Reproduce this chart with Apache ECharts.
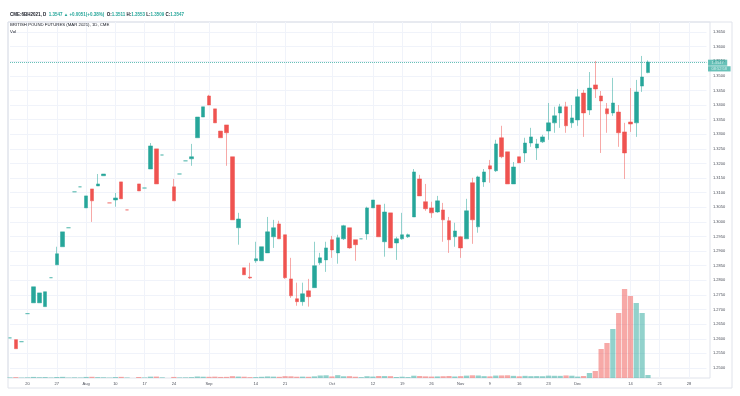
<!DOCTYPE html>
<html><head><meta charset="utf-8">
<script src="https://cdn.jsdelivr.net/npm/echarts@6/dist/echarts.min.js"></script>
<style>html,body{margin:0;padding:0;background:#fff}#c{width:740px;height:396px}</style>
</head><body><div id="c"></div>
<script>
// ---- categories (trading days, plus empty future slots) ----
const dates = [
'2020-07-15','2020-07-16','2020-07-17','2020-07-20','2020-07-21','2020-07-22','2020-07-23','2020-07-24','2020-07-27','2020-07-28',
'2020-07-29','2020-07-30','2020-07-31','2020-08-03','2020-08-04','2020-08-05','2020-08-06','2020-08-07','2020-08-10','2020-08-11',
'2020-08-12','2020-08-13','2020-08-14','2020-08-17','2020-08-18','2020-08-19','2020-08-20','2020-08-21','2020-08-24','2020-08-25',
'2020-08-26','2020-08-27','2020-08-28','2020-08-31','2020-09-01','2020-09-02','2020-09-03','2020-09-04','2020-09-08','2020-09-09',
'2020-09-10','2020-09-11','2020-09-14','2020-09-15','2020-09-16','2020-09-17','2020-09-18','2020-09-21','2020-09-22','2020-09-23',
'2020-09-24','2020-09-25','2020-09-28','2020-09-29','2020-09-30','2020-10-01','2020-10-02','2020-10-05','2020-10-06','2020-10-07',
'2020-10-08','2020-10-09','2020-10-12','2020-10-13','2020-10-14','2020-10-15','2020-10-16','2020-10-19','2020-10-20','2020-10-21',
'2020-10-22','2020-10-23','2020-10-26','2020-10-27','2020-10-28','2020-10-29','2020-10-30','2020-11-02','2020-11-03','2020-11-04',
'2020-11-05','2020-11-06','2020-11-09','2020-11-10','2020-11-11','2020-11-12','2020-11-13','2020-11-16','2020-11-17','2020-11-18',
'2020-11-19','2020-11-20','2020-11-23','2020-11-24','2020-11-25','2020-11-27','2020-11-30','2020-12-01','2020-12-02','2020-12-03',
'2020-12-04','2020-12-07','2020-12-08','2020-12-09','2020-12-10','2020-12-11','2020-12-14','2020-12-15','2020-12-16','2020-12-17',
'2020-12-18','2020-12-21','2020-12-22','2020-12-23','2020-12-24','2020-12-25','2020-12-28','2020-12-29','2020-12-30','2020-12-31'
];

// ---- OHLC ----
const open = [
1.2603,1.2597,1.2590,1.2686,1.2723,1.2723,1.2710,1.2809,1.2853,1.2915,
1.2980,1.3103,1.3120,1.3048,1.3113,1.3123,1.3158,1.3065,1.3075,1.3137,
1.3041,null,1.3130,1.3116,1.3181,1.3250,1.3229,null,1.3120,1.3164,
1.3209,1.3216,1.3288,1.3359,1.3431,1.3387,1.3311,1.3332,1.3223,1.2980,
1.2843,1.2811,1.2867,1.2867,1.2894,1.2949,1.2993,1.2956,1.2805,1.2737,
1.2727,1.2764,1.2775,1.2860,1.2870,1.2939,1.2894,1.2942,1.2980,1.2939,
1.2942,1.2959,1.3048,1.3058,1.2932,1.3031,1.2928,1.2942,1.2949,1.3017,
1.3147,1.3069,1.3048,1.3034,1.3041,1.3004,1.2949,1.2949,1.2942,1.3134,
1.2983,1.3137,1.3192,1.3175,1.3288,1.3240,1.3130,1.3223,1.3236,1.3270,
1.3253,1.3274,1.3311,1.3339,1.3373,1.3394,1.3339,1.3349,1.3441,1.3383,
1.3469,1.3431,1.3387,1.3373,1.3376,1.3308,1.3342,1.3339,1.3465,1.3511
];
const high = [
1.2603,1.2597,1.2590,1.2686,1.2778,1.2757,1.2761,1.2809,1.2915,1.2966,
1.2980,1.3103,1.3120,1.3089,1.3113,1.3164,1.3164,1.3065,1.3099,1.3137,
1.3041,null,1.3130,1.3116,1.3270,1.3250,1.3229,null,1.3147,1.3164,
1.3209,1.3267,1.3359,1.3394,1.3435,1.3387,1.3311,1.3332,1.3223,1.3031,
1.2843,1.2860,1.2932,1.2915,1.3017,1.3007,1.3004,1.2956,1.2877,1.2792,
1.2792,1.2805,1.2932,1.2894,1.2932,1.2952,1.2956,1.2990,1.2980,1.2939,
1.2942,1.3052,1.3075,1.3058,1.3062,1.3031,1.2949,1.3031,1.2960,1.3181,
1.3161,1.3130,1.3069,1.3089,1.3065,1.3017,1.2997,1.2952,1.3079,1.3151,
1.3158,1.3181,1.3212,1.3281,1.3329,1.3240,1.3205,1.3223,1.3288,1.3322,
1.3284,1.3298,1.3407,1.3394,1.3404,1.3411,1.3400,1.3455,1.3452,1.3513,
1.3551,1.3448,1.3407,1.3493,1.3400,1.3339,1.3458,1.3486,1.3568,1.3553
];
const low = [
1.2603,1.2566,1.2590,1.2686,1.2723,1.2723,1.2710,1.2809,1.2853,1.2915,
1.2980,1.3103,1.3120,1.3048,1.3000,1.3123,1.3158,1.3065,1.3052,1.3079,
1.3041,null,1.3106,1.3116,1.3181,1.3130,1.3229,null,1.3072,1.3164,
1.3209,1.3192,1.3288,1.3359,1.3400,1.3339,1.3288,1.3192,1.3007,1.2922,
1.2819,1.2805,1.2860,1.2867,1.2894,1.2911,1.2942,1.2805,1.2740,1.2713,
1.2713,1.2710,1.2775,1.2853,1.2829,1.2877,1.2857,1.2938,1.2908,1.2867,
1.2942,1.2939,1.3048,1.2949,1.2881,1.2911,1.2870,1.2939,1.2945,1.3017,
1.3089,1.3038,1.3014,1.3031,1.2932,1.2894,1.2915,1.2877,1.2942,1.2925,
1.2963,1.3120,1.3134,1.3171,1.3218,1.3130,1.3130,1.3202,1.3205,1.3257,
1.3212,1.3270,1.3281,1.3305,1.3322,1.3305,1.3322,1.3329,1.3291,1.3366,
1.3424,1.3236,1.3305,1.3363,1.3257,1.3147,1.3308,1.3291,1.3445,1.3509
];
const close = [
1.2603,1.2566,1.2590,1.2686,1.2778,1.2757,1.2761,1.2809,1.2891,1.2966,
1.2980,1.3103,1.3120,1.3089,1.3072,1.3130,1.3164,1.3065,1.3082,1.3079,
1.3041,null,1.3106,1.3116,1.3260,1.3130,1.3229,null,1.3072,1.3164,
1.3209,1.3223,1.3359,1.3394,1.3400,1.3339,1.3288,1.3305,1.3007,1.3010,
1.2819,1.2808,1.2874,1.2915,1.2966,1.2980,1.2942,1.2809,1.2747,1.2727,
1.2754,1.2744,1.2850,1.2877,1.2911,1.2904,1.2946,1.2987,1.2911,1.2922,
1.2942,1.3048,1.3075,1.2949,1.3034,1.2911,1.2942,1.2956,1.2956,1.3171,
1.3089,1.3045,1.3031,1.3072,1.3007,1.2939,1.2969,1.2911,1.3038,1.3007,
1.3154,1.3171,1.3181,1.3267,1.3223,1.3130,1.3188,1.3202,1.3270,1.3291,
1.3267,1.3291,1.3339,1.3363,1.3394,1.3329,1.3356,1.3428,1.3373,1.3458,
1.3455,1.3414,1.3370,1.3407,1.3305,1.3236,1.3335,1.3445,1.3496,1.3547
];

// ---- volume ----
const volume = [
800,1200,600,900,1500,1100,1300,700,1400,1600,
600,900,700,1500,1700,1200,1000,600,1300,1600,
700,null,1400,800,1900,2000,900,null,1500,800,
900,1200,2100,1800,1700,1900,1500,1600,2600,2000,
1800,1200,1300,1700,2200,1900,1700,2600,2400,1800,
1900,1700,2300,3500,3800,2200,4000,2400,2600,1800,
1200,2500,2000,2800,2700,2600,1400,1800,1300,3200,
2800,2300,2000,2200,2500,2800,2100,2600,3300,3800,
3500,2600,2300,3400,3600,3800,3000,2400,3000,2600,
2700,2500,3300,3100,3000,3600,3200,2000,2800,7000,
9800,40600,49000,68600,91000,124600,114800,105000,91000,4200
];

// ---- time-axis tick labels ----
const tickDates = ['2020-07-20','2020-07-27','2020-08-03','2020-08-10','2020-08-17','2020-08-24','2020-09-01',
  '2020-09-14','2020-09-21','2020-10-01','2020-10-12','2020-10-19','2020-10-26','2020-11-02','2020-11-09',
  '2020-11-16','2020-11-23','2020-12-01','2020-12-14','2020-12-21','2020-12-28'];
const tickTexts = ['20','27','Aug','10','17','24','Sep','14','21','Oct','12','19','26','Nov','9','16','23','Dec','14','21','28'];

const symbolText = 'CME:6BH2021, D';
const legendText = 'BRITISH POUND FUTURES (MAR 2021), 1D, CME';
const volText = 'Vol';
const countdownText = '08:52:58';

// ---- build ----
const UP = '#26a69a', DOWN = '#ef5350';
const FONT = 'Liberation Sans';
const TXT = '#131722', AX = '#4a4e59', GRIDC = '#f0f3fa', BORDER = '#e0e3eb';

const candleData = open.map((o, i) => o == null ? ['-', '-', '-', '-'] : [o, close[i], low[i], high[i]]);
const volData = volume.map((v, i) => v == null ? '-' : {
  value: v,
  itemStyle: { color: close[i] >= open[i] ? 'rgba(38,166,154,0.5)' : 'rgba(239,83,80,0.5)' }
});

const last = close.length - 1;
const lastC = close[last], prevC = close[last - 1];
const chg = lastC - prevC;
const pct = chg / prevC * 100;
const sgn = chg >= 0 ? '+' : '-';
const headerText =
  '{d|' + symbolText + '}  {u|' + lastC.toFixed(4) + ' ▲ ' + sgn + Math.abs(chg).toFixed(4) + '(' + sgn + Math.abs(pct).toFixed(2) + '%)}  ' +
  '{d|O:}{u|' + open[last].toFixed(4) + '} {d|H:}{u|' + high[last].toFixed(4) + '} {d|L:}{u|' + low[last].toFixed(4) + '} {d|C:}{u|' + lastC.toFixed(4) + '}';

const isTick = (idx, val) => tickDates.indexOf(val) >= 0;

const chart = echarts.init(document.getElementById('c'), null, { renderer: 'canvas' });
chart.setOption({
  animation: false,
  backgroundColor: '#ffffff',
  textStyle: { fontFamily: FONT },
  title: [
    { left: 10, top: 12.6, padding: 0, text: headerText,
      textStyle: { fontSize: 4.5, fontFamily: FONT, rich: {
        d: { color: TXT, fontSize: 4.5, fontFamily: FONT },
        u: { color: UP, fontSize: 4.5, fontFamily: FONT } } } },
    { left: 10, top: 22.8, padding: 0, text: legendText,
      textStyle: { fontSize: 4.3, color: TXT, fontWeight: 'normal', fontFamily: FONT } },
    { left: 10, top: 29.8, padding: 0, text: volText,
      textStyle: { fontSize: 4.3, color: TXT, fontWeight: 'normal', fontFamily: FONT } }
  ],
  grid: [
    { left: 10, right: 33.5, top: 17.39, bottom: 13.4, outerBoundsMode: 'none' },
    { left: 10, right: 33.5, top: 22, bottom: 18, outerBoundsMode: 'none' },
    { left: 8, right: 30, top: 22, bottom: 18, show: true, borderColor: BORDER, borderWidth: 1, backgroundColor: 'transparent', outerBoundsMode: 'none' },
    { left: 8, right: 8, top: 22, bottom: 8, show: true, borderColor: BORDER, borderWidth: 1, backgroundColor: 'transparent', outerBoundsMode: 'none' }
  ],
  xAxis: [
    { type: 'category', gridIndex: 0, data: dates, boundaryGap: false, show: false },
    { type: 'category', gridIndex: 1, data: dates, boundaryGap: false,
      axisLine: { show: false }, axisTick: { show: false },
      axisLabel: { interval: isTick, formatter: (v) => tickTexts[tickDates.indexOf(v)],
        fontSize: 4, color: AX, margin: 3.6, fontFamily: FONT },
      splitLine: { show: true, interval: isTick, lineStyle: { color: GRIDC, width: 1 } } }
  ],
  yAxis: [
    { type: 'value', gridIndex: 0, position: 'right', min: 1.245, max: 1.37, interval: 0.005,
      axisLine: { show: false }, axisTick: { show: false },
      axisLabel: { fontSize: 4, color: AX, margin: 6.5, fontFamily: FONT,
        showMinLabel: false, showMaxLabel: false, formatter: (v) => v.toFixed(4) },
      splitLine: { show: true, showMinLine: false, showMaxLine: false, lineStyle: { color: GRIDC, width: 1 } } },
    { type: 'value', gridIndex: 1, show: false, min: 0, max: (e) => e.max * 4,
      splitLine: { show: false } }
  ],
  series: [
    { type: 'bar', xAxisIndex: 1, yAxisIndex: 1, data: volData, barCategoryGap: '10%', clip: false, z: 1 },
    { type: 'candlestick', xAxisIndex: 0, yAxisIndex: 0, data: candleData, barWidth: 4, clip: false, z: 3,
      itemStyle: { color: UP, color0: DOWN, borderColor: 'rgba(38,166,154,0.5)', borderColor0: 'rgba(239,83,80,0.5)', borderWidth: 1 },
      markLine: {
        symbol: ['none', 'none'], silent: true, animation: false, precision: 4,
        lineStyle: { color: UP, type: 'dotted', width: 1, opacity: 0.7 },
        label: { show: true, position: 'end', distance: 1.5, fontFamily: FONT,
          formatter: '{g| }\n{p|' + lastC.toFixed(4) + '}\n{s| }\n{t|' + countdownText + '}',
          rich: {
            g: { height: 7.5, fontSize: 3, lineHeight: 7.5 },
            p: { color: '#ffffff', backgroundColor: UP, padding: [1, 3.5, 1, 3.5], fontSize: 4, lineHeight: 4.2, fontFamily: FONT },
            s: { height: 1.8, fontSize: 1, lineHeight: 1.8 },
            t: { color: '#ffffff', backgroundColor: UP, padding: [0.6, 3.5, 0.6, 3.5], fontSize: 4, lineHeight: 4.5, fontFamily: FONT }
          } },
        data: [ { yAxis: lastC } ]
      } }
  ]
});
</script>
</body></html>
